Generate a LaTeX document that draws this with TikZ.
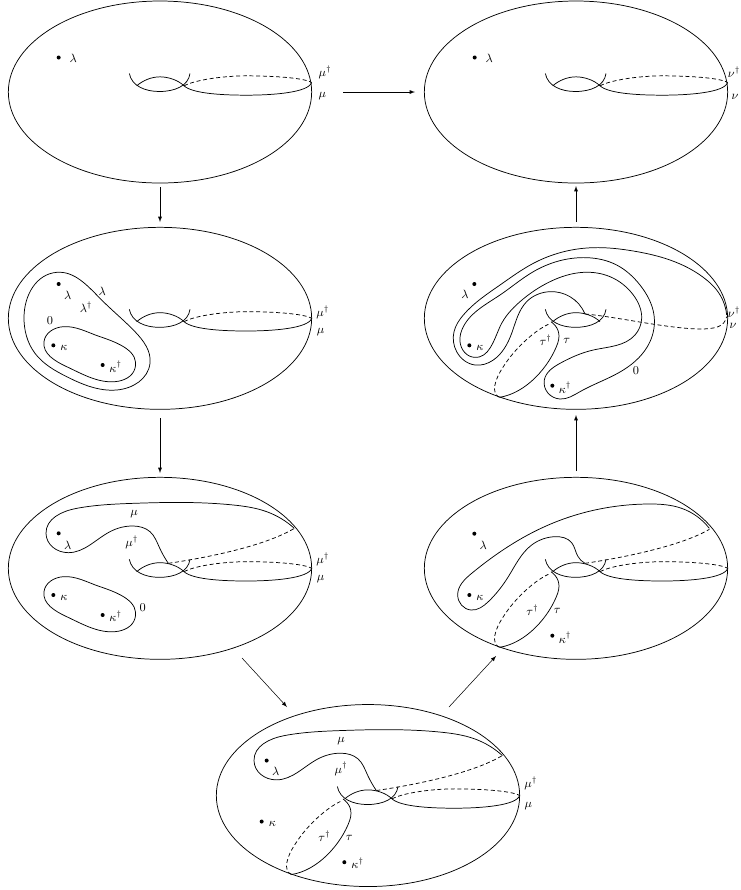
\documentclass[tikz,border=0pt]{standalone}
\usepackage{amsmath}
\usepackage{amssymb}
\usetikzlibrary{hobby}
\tikzset{
	panel/.style={x=.25pt, y=-.25pt},
	lbl/.style={font=\small, inner sep=0pt},
	hid/.style={dash pattern=on 3pt off 2pt},
	arr/.style={-latex},
	curve/.style={line width=.55pt},
	sm/.style={use Hobby shortcut},
	smc/.style={use Hobby shortcut, closed=true}
}
% ellipse of one surface
\newcommand{\shell}[1]{\draw [curve] (480, #1) ellipse (455 and 273);}
% the hole
\newcommand{\hole}{
	\draw [curve] (388, 268) .. controls (395, 305) and (435, 322) .. (478, 322) .. controls (525, 322) and (565, 305) .. (570, 268);
	\draw [curve] (410, 305) .. controls (430, 288) and (455, 278) .. (480, 278) .. controls (505, 278) and (535, 288) .. (552, 305);
}
\newcommand{\meridian}{
	\draw [curve] (552, 305) .. controls (580, 330) and (680, 333) .. (740, 333) .. controls (820, 333) and (925, 325) .. (935, 295);
	\draw [curve, hid] (552, 305) .. controls (590, 285) and (680, 275) .. (740, 275) .. controls (810, 275) and (910, 280) .. (935, 295);
}
\newcommand{\tauloop}{
	\draw [curve] (405, 305) .. controls (425, 320) and (435, 340) .. (425, 370) .. controls (400, 440) and (330, 520) .. (250, 532);
	\draw [curve, hid] (250, 532) .. controls (225, 520) and (235, 480) .. (262, 440) .. controls (300, 380) and (360, 330) .. (397, 313);
}
\newcommand{\kloop}{
	\draw [curve, smc] (190, 320) .. (300, 350) .. (405, 445) .. (345, 485) .. (200, 440) .. (132, 365);
}
\newcommand{\mucurve}{
	\draw [curve, sm] (883, 175) .. (800, 125) .. (700, 105) .. (400, 100) .. (230, 115) .. (138, 190) .. (205, 248) .. (330, 185) .. (400, 168) .. (450, 185) .. (478, 232) .. (505, 280);
	\draw [curve, hid] (505, 280) .. controls (640, 260) and (800, 225) .. (883, 175);
}
\begin{document}
\begin{tikzpicture}[x=.75pt, y=-.75pt]
	\useasboundingbox (0, 0) rectangle (740, 890);

	% top left
	\begin{scope}[shift={(0, -15.83)}, panel]
		\shell{323.5}
		\hole
		\meridian
		\fill (176, 220) circle (1.5pt);
		\node [lbl] (a1) at (220, 222) {$\lambda$};
		\node [lbl] (a2) at (975, 265) {$\mu^\dagger$};
		\node [lbl] (a3) at (967, 337) {$\mu$};
	\end{scope}

	% second on the left
	\begin{scope}[shift={(0, 220)}, panel]
		\shell{295}
		\hole
		\meridian
		\kloop
		\draw [curve, smc] (170, 157) .. (300, 235) .. (405, 335) .. (450, 430) .. (350, 510) .. (200, 470) .. (105, 400) .. (72, 290);
		\fill (176, 192) circle (1.5pt);
		\fill (160, 376) circle (1.5pt);
		\fill (308, 435) circle (1.5pt);
		\node [lbl] (b1) at (203, 225) {$\lambda$};
		\node [lbl] (b2) at (307, 215) {$\lambda$};
		\node [lbl] (b3) at (258, 262) {$\lambda^\dagger$};
		\node [lbl] (b4) at (150, 303) {$0$};
		\node [lbl] (b5) at (192, 385) {$\kappa$};
		\node [lbl] (b6) at (347, 440) {$\kappa^\dagger$};
		\node [lbl] (b7) at (968, 278) {$\mu^\dagger$};
		\node [lbl] (b8) at (962, 335) {$\mu$};
	\end{scope}

	% third on the left
	\begin{scope}[shift={(0, 470)}, panel]
		\shell{295}
		\hole
		\meridian
		\kloop
		\mucurve
		\fill (176, 190) circle (1.5pt);
		\fill (160, 375) circle (1.5pt);
		\fill (308, 435) circle (1.5pt);
		\node [lbl] (c1) at (203, 225) {$\lambda$};
		\node [lbl] (c2) at (402, 133) {$\mu$};
		\node [lbl] (c3) at (395, 218) {$\mu^\dagger$};
		\node [lbl] (c4) at (192, 385) {$\kappa$};
		\node [lbl] (c5) at (347, 438) {$\kappa^\dagger$};
		\node [lbl] (c6) at (428, 413) {$0$};
		\node [lbl] (c7) at (968, 268) {$\mu^\dagger$};
		\node [lbl] (c8) at (962, 328) {$\mu$};
	\end{scope}

	% bottom
	\begin{scope}[shift={(208, 697.2)}, panel]
		\shell{295}
		\hole
		\meridian
		\tauloop
		\mucurve
		\fill (176, 190) circle (1.5pt);
		\fill (161, 373) circle (1.5pt);
		\fill (409, 495) circle (1.5pt);
		\node [lbl] (d1) at (203, 223) {$\lambda$};
		\node [lbl] (d2) at (399, 131) {$\mu$};
		\node [lbl] (d3) at (399, 215) {$\mu^\dagger$};
		\node [lbl] (d4) at (193, 380) {$\kappa$};
		\node [lbl] (d5) at (449, 498) {$\kappa^\dagger$};
		\node [lbl] (d6) at (349, 418) {$\tau^\dagger$};
		\node [lbl] (d7) at (424, 421) {$\tau$};
		\node [lbl] (d8) at (968, 258) {$\mu^\dagger$};
		\node [lbl] (d9) at (961, 328) {$\mu$};
	\end{scope}

	% lower right
	\begin{scope}[shift={(416, 470)}, panel]
		\shell{295}
		\hole
		\meridian
		\tauloop
		\draw [curve, sm] (880, 175) .. (797, 115) .. (697, 102) .. (397, 165) .. (167, 310) .. (125, 375) .. (165, 420) .. (217, 395) .. (277, 320) .. (347, 225) .. (417, 200) .. (467, 218) .. (485, 258) .. (507, 280);
		\draw [curve, hid] (507, 280) .. controls (640, 260) and (800, 225) .. (880, 178);
		\fill (175, 191) circle (1.5pt);
		\fill (160, 375) circle (1.5pt);
		\fill (409, 497) circle (1.5pt);
		\node [lbl] (e1) at (202, 225) {$\lambda$};
		\node [lbl] (e2) at (192, 383) {$\kappa$};
		\node [lbl] (e3) at (447, 503) {$\kappa^\dagger$};
		\node [lbl] (e4) at (349, 420) {$\tau^\dagger$};
		\node [lbl] (e5) at (424, 422) {$\tau$};
	\end{scope}

	% second on the right
	\begin{scope}[shift={(416, 220)}, panel]
		\shell{295}
		\hole
		\tauloop
		\draw [curve, sm] (932, 285) .. (902, 210) .. (872, 180) .. (762, 120) .. (652, 93) .. (532, 83) .. (452, 93) .. (352, 130) .. (252, 195) .. (142, 285) .. (114, 335) .. (122, 395) .. (177, 435) .. (232, 420) .. (287, 340) .. (332, 245) .. (402, 215) .. (462, 230) .. (507, 282);
		\draw [curve, hid] (507, 282) .. controls (600, 290) and (750, 325) .. (850, 327) .. controls (900, 327) and (925, 320) .. (932, 290);
		\draw [curve, smc] (432, 537) .. (492, 515) .. (622, 450) .. (702, 365) .. (714, 285) .. (672, 195) .. (602, 135) .. (512, 113) .. (352, 155) .. (252, 225) .. (142, 320) .. (132, 365) .. (175, 412) .. (252, 320) .. (312, 245) .. (402, 185) .. (502, 157) .. (582, 170) .. (652, 225) .. (677, 295) .. (657, 345) .. (532, 390) .. (432, 430) .. (385, 480);
		\fill (175, 192) circle (1.5pt);
		\fill (160, 376) circle (1.5pt);
		\fill (409, 497) circle (1.5pt);
		\node [lbl] (f1) at (147, 222) {$\lambda$};
		\node [lbl] (f2) at (192, 385) {$\kappa$};
		\node [lbl] (f3) at (447, 503) {$\kappa^\dagger$};
		\node [lbl] (f4) at (389, 360) {$\tau^\dagger$};
		\node [lbl] (f5) at (452, 363) {$\tau$};
		\node [lbl] (f6) at (660, 452) {$0$};
		\node [lbl] (f7) at (954, 277) {$\nu^\dagger$};
		\node [lbl] (f8) at (951, 317) {$\nu$};
	\end{scope}

	% top right
	\begin{scope}[shift={(416, -15.83)}, panel]
		\shell{323.5}
		\hole
		\meridian
		\fill (176, 220) circle (1.5pt);
		\node [lbl] (g1) at (220, 222) {$\lambda$};
		\node [lbl] (g2) at (954, 265) {$\nu^\dagger$};
		\node [lbl] (g3) at (957, 337) {$\nu$};
	\end{scope}

	% arrows
	\coordinate (s1) at (160, 187);
	\coordinate (t1) at (160, 222);
	\coordinate (s2) at (160, 418);
	\coordinate (t2) at (160, 473);
	\coordinate (s3) at (242, 658);
	\coordinate (t3) at (287, 707);
	\coordinate (s4) at (449, 707);
	\coordinate (t4) at (496, 656);
	\coordinate (s5) at (576, 471);
	\coordinate (t5) at (576, 415);
	\coordinate (s6) at (576, 222);
	\coordinate (t6) at (576, 186);
	\coordinate (s7) at (343, 92);
	\coordinate (t7) at (415, 92);
	\draw [arr] (s1) -- (t1);
	\draw [arr] (s2) -- (t2);
	\draw [arr] (s3) -- (t3);
	\draw [arr] (s4) -- (t4);
	\draw [arr] (s5) -- (t5);
	\draw [arr] (s6) -- (t6);
	\draw [arr] (s7) -- (t7);
\end{tikzpicture}
\end{document}
